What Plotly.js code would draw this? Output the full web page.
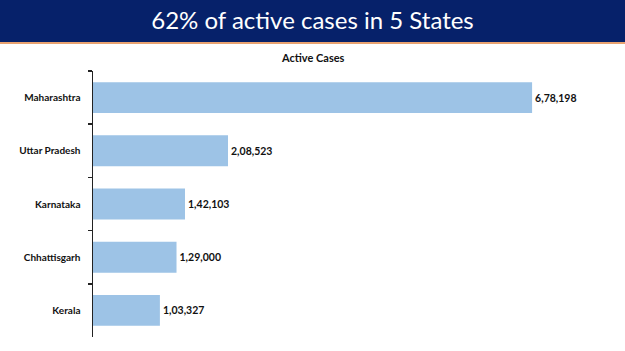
<!DOCTYPE html>
<html>
<head>
<meta charset="utf-8">
<script src="https://cdn.plot.ly/plotly-3.0.1.min.js"></script>
<style>html,body{margin:0;padding:0;background:#fff;}#chart{width:625px;height:351px;}</style>
</head>
<body>
<div id="chart"></div>
<script>
const states = ["Maharashtra", "Uttar Pradesh", "Karnataka", "Chhattisgarh", "Kerala"];
const activeCases = [678198, 208523, 142103, 129000, 103327];
const headline = "62% of active cases in 5 States";
const chartTitle = "Active Cases";

function formatIndian(n) {
  const s = String(n);
  if (s.length <= 3) return s;
  const last3 = s.slice(-3);
  let rest = s.slice(0, -3);
  const parts = [];
  while (rest.length > 2) { parts.unshift(rest.slice(-2)); rest = rest.slice(0, -2); }
  if (rest.length) parts.unshift(rest);
  return parts.join(",") + "," + last3;
}

const W = 625, H = 351;
const mL = 93, mR = 27, mT = 71, mB = 14;
const pw = W - mL - mR, ph = H - mT - mB;
const px = v => (v - mL) / pw;          // pixel x -> paper x
const py = v => 1 + (mT - v) / ph;      // pixel y -> paper y

const trace = {
  type: "bar",
  orientation: "h",
  y: states,
  x: activeCases,
  text: activeCases.map(formatIndian),
  textposition: "outside",
  cliponaxis: false,
  textfont: {family: "Lato, 'Open Sans', sans-serif", size: 10.5, color: "#111", weight: "bold"},
  marker: {color: "#9DC3E6"},
  hoverinfo: "skip"
};

const layout = {
  width: W, height: H,
  margin: {l: mL, r: mR, t: mT, b: mB, pad: 0},
  paper_bgcolor: "#fff",
  plot_bgcolor: "#fff",
  showlegend: false,
  bargap: 0.42,
  title: {
    text: headline,
    font: {family: "Lato, 'Open Sans', sans-serif", size: 24, color: "#fff"},
    x: 0.5, xref: "container", xanchor: "center",
    y: 1 - 21 / H, yref: "container", yanchor: "middle"
  },
  xaxis: {
    range: [0, 780000],
    visible: false,
    fixedrange: true
  },
  yaxis: {
    type: "category",
    autorange: "reversed",
    showline: true,
    linecolor: "#222",
    linewidth: 1.5,
    ticks: "outside",
    tickson: "boundaries",
    ticklen: 4,
    tickcolor: "#222",
    tickwidth: 1.5,
    showgrid: false,
    zeroline: false,
    ticklabelstandoff: 9,
    tickfont: {family: "Lato, 'Open Sans', sans-serif", size: 10, color: "#111", weight: "bold"},
    fixedrange: true
  },
  shapes: [
    {type: "rect", xref: "paper", yref: "paper", x0: px(0), x1: px(W), y0: py(42), y1: py(0),
     fillcolor: "#06216A", line: {width: 0}, layer: "below"},
    {type: "rect", xref: "paper", yref: "paper", x0: px(0), x1: px(W), y0: py(44), y1: py(42),
     fillcolor: "#E8A270", line: {width: 0}, layer: "below"}
  ],
  annotations: [
    {text: chartTitle, xref: "paper", yref: "paper", x: px(313), y: py(58),
     xanchor: "center", yanchor: "middle", showarrow: false,
     font: {family: "Lato, 'Open Sans', sans-serif", size: 11, color: "#111", weight: "bold"}}
  ]
};

Plotly.newPlot("chart", [trace], layout, {displayModeBar: false, staticPlot: true});
</script>
</body>
</html>
